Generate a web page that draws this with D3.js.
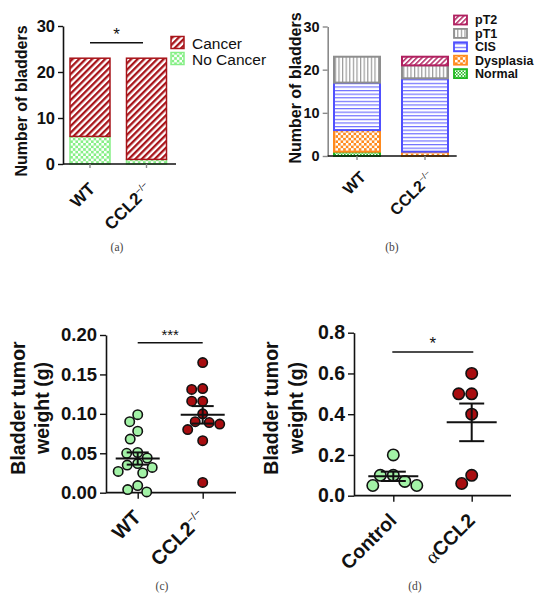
<!DOCTYPE html>
<html>
  <head>
    <meta charset="utf-8" />
    <script src="https://cdn.jsdelivr.net/npm/d3@7"></script>
    <style>
      body {
        margin: 0;
        background: #ffffff;
      }
      svg {
        font-family: "Liberation Sans", Arial, sans-serif;
      }
      .caption {
        font-family: "Liberation Serif", "Times New Roman", serif;
        font-size: 11.5px;
        fill: #444;
      }
    </style>
  </head>
  <body>
    <script>
      // (a) cancer incidence
      const groupsA = ["WT", "CCL2"];
      const noCancerA = [6, 1];
      const cancerA = [17, 22];
      const yTicksA = [0, 10, 20, 30];

      // (b) pathology stage
      const groupsB = ["WT", "CCL2"];
      const stagesB = ["Normal", "Dysplasia", "CIS", "pT1", "pT2"];
      const normalB = [1, 0];
      const dysplasiaB = [5, 1];
      const cisB = [11, 17];
      const pT1B = [6, 3];
      const pT2B = [0, 2];
      const yTicksB = [0, 10, 20, 30];

      // (c) tumor weight, knockout
      const groupsC = ["WT", "CCL2"];
      const wtWeightC = [0.099, 0.09, 0.078, 0.068, 0.05, 0.051, 0.044, 0.035, 0.032, 0.037, 0.025, 0.027, 0.009, 0.001, 0.004];
      const ccl2WeightC = [0.165, 0.131, 0.132, 0.116, 0.116, 0.1, 0.087, 0.089, 0.09, 0.08, 0.066, 0.013];
      const yTicksC = [0, 0.05, 0.1, 0.15, 0.2];

      // (d) tumor weight, antibody
      const groupsD = ["Control", "aCCL2"];
      const controlWeightD = [0.2, 0.1, 0.1, 0.07, 0.05, 0.05];
      const accl2WeightD = [0.6, 0.5, 0.5, 0.4, 0.06, 0.1];
      const yTicksD = [0, 0.2, 0.4, 0.6, 0.8];

      const svg = d3.select("body").append("svg").attr("width", 550).attr("height", 602);
      const defs = svg.append("defs");

      // ---------- patterns ----------
      function stripes(id, color, period, width, angle) {
        const p = defs.append("pattern").attr("id", id)
          .attr("patternUnits", "userSpaceOnUse")
          .attr("width", period).attr("height", period)
          .attr("patternTransform", `rotate(${angle})`);
        p.append("rect").attr("width", period).attr("height", period).attr("fill", "#fff");
        p.append("rect").attr("width", width).attr("height", period).attr("fill", color);
      }
      function checker(id, color, size) {
        const p = defs.append("pattern").attr("id", id)
          .attr("patternUnits", "userSpaceOnUse")
          .attr("width", size * 2).attr("height", size * 2);
        p.append("rect").attr("width", size * 2).attr("height", size * 2).attr("fill", color);
        p.append("rect").attr("width", size).attr("height", size).attr("fill", "#fff");
        p.append("rect").attr("x", size).attr("y", size).attr("width", size).attr("height", size).attr("fill", "#fff");
      }
      stripes("cancer", "#a8141a", 4.6, 2.3, 45);
      checker("nocancer", "#86ef86", 2.6);
      stripes("pt2", "#b8306a", 3.6, 1.6, 45);
      stripes("pt1", "#9a9a9a", 3.6, 1.2, 0);
      stripes("cis", "#6f6fff", 3.6, 1.2, 90);
      checker("dysplasia", "#ff8a1e", 2.6);
      checker("normal", "#22bb22", 1.6);

      const styleA = {
        noCancer: { fill: "url(#nocancer)", stroke: "#86ef86" },
        cancer: { fill: "url(#cancer)", stroke: "#a8141a" }
      };
      const styleB = {
        Normal: { fill: "url(#normal)", stroke: "#1fb81f" },
        Dysplasia: { fill: "url(#dysplasia)", stroke: "#ff8a1e" },
        CIS: { fill: "url(#cis)", stroke: "#5050ff" },
        pT1: { fill: "url(#pt1)", stroke: "#8e8e8e" },
        pT2: { fill: "url(#pt2)", stroke: "#b0205f" }
      };

      // ---------- helpers ----------
      function styleAxis(g, fontSize, color) {
        g.select(".domain").attr("stroke", color).attr("stroke-width", 1.6);
        g.selectAll(".tick line").attr("stroke", color).attr("stroke-width", 1.4);
        g.selectAll(".tick text").attr("font-size", fontSize).attr("font-weight", "bold")
          .attr("fill", "#111").attr("font-family", "Liberation Sans, Arial, sans-serif");
      }

      function xLabels(g, fontSize, ox, oy) {
        g.selectAll(".tick text").each(function (d) {
          const t = d3.select(this);
          t.text(null).attr("x", 0).attr("y", 0).attr("dy", 0)
            .attr("text-anchor", "end")
            .attr("font-size", fontSize).attr("font-weight", "bold").attr("fill", "#111")
            .attr("transform", `translate(${ox},${oy}) rotate(-45)`);
          if (d === "CCL2") {
            t.append("tspan").text("CCL2");
            t.append("tspan").text("\u2212/\u2212").attr("dy", "-0.7em")
              .attr("font-size", "0.55em").attr("font-weight", "normal");
          } else if (d === "aCCL2") {
            t.append("tspan").text("\u03b1").attr("font-family", "Liberation Serif, serif")
              .attr("font-weight", "normal");
            t.append("tspan").text("CCL2");
          } else {
            t.text(d);
          }
        });
      }

      function yTitle(lines, x0, yc, fontSize, gap) {
        lines.forEach((s, i) => {
          svg.append("text")
            .attr("transform", `translate(${x0 + i * gap},${yc}) rotate(-90)`)
            .attr("text-anchor", "middle").attr("dy", "0.35em")
            .attr("font-size", fontSize).attr("font-weight", "bold").attr("fill", "#111")
            .text(s);
        });
      }

      function bracket(x1, x2, y, label, fontSize) {
        svg.append("line").attr("x1", x1).attr("x2", x2).attr("y1", y).attr("y2", y)
          .attr("stroke", "#111").attr("stroke-width", 1.4);
        svg.append("text").attr("x", (x1 + x2) / 2).attr("y", y - 3)
          .attr("text-anchor", "middle").attr("font-size", fontSize).attr("fill", "#111")
          .text(label);
      }

      function caption(label, x, y) {
        svg.append("text").attr("class", "caption").attr("x", x).attr("y", y)
          .attr("text-anchor", "middle").text(label);
      }

      // simple beeswarm: place points high to low, nearest free offset
      function swarm(values, y, r, cx) {
        const placed = [];
        const order = values.map((v, i) => ({ v, i })).sort((a, b) => b.v - a.v);
        order.forEach((p) => {
          const py = y(p.v);
          let px = cx;
          for (let k = 0; k < 400; k++) {
            const off = (k % 2 === 0 ? 1 : -1) * Math.ceil(k / 2) * 0.5;
            const ok = placed.every((q) => (q.x - (cx + off)) ** 2 + (q.y - py) ** 2 >= (2 * r + 1.2) ** 2);
            if (ok) { px = cx + off; break; }
          }
          placed.push({ x: px, y: py, v: p.v });
        });
        return placed;
      }

      // ---------- (a) ----------
      const aX0 = 63, aX1 = 176;
      const yA = d3.scaleLinear().domain([0, 30]).range([164, 26]);
      const xA = d3.scaleBand().domain(groupsA).range([61.75, 174.75]);
      const tableA = groupsA.map((g, i) => ({ group: g, noCancer: noCancerA[i], cancer: cancerA[i] }));
      const stackA = d3.stack().keys(["noCancer", "cancer"])(tableA);
      const barWA = 40;

      defs.append("clipPath").attr("id", "clipA").append("rect").attr("width", 275).attr("height", 300);
      const gA = svg.append("g").attr("clip-path", "url(#clipA)");

      stackA.forEach((layer) => {
        gA.selectAll(null).data(layer).join("rect")
          .attr("x", (d) => xA(d.data.group) + (xA.bandwidth() - barWA) / 2)
          .attr("y", (d) => yA(d[1]))
          .attr("width", barWA)
          .attr("height", (d) => yA(d[0]) - yA(d[1]))
          .attr("fill", styleA[layer.key].fill)
          .attr("stroke", styleA[layer.key].stroke)
          .attr("stroke-width", 1.5);
      });

      gA.append("g").attr("transform", `translate(${aX0},0)`)
        .call(d3.axisLeft(yA).tickValues(yTicksA).tickSize(5).tickSizeOuter(0).tickPadding(3))
        .call((g) => styleAxis(g, 16.5, "#111"));
      gA.append("line").attr("x1", aX0).attr("x2", aX1).attr("y1", yA(0)).attr("y2", yA(0))
        .attr("stroke", "#111").attr("stroke-width", 1.6);
      gA.append("g").attr("transform", `translate(0,${yA(0)})`)
        .call(d3.axisBottom(xA).tickSize(4).tickSizeOuter(0))
        .call((g) => { g.select(".domain").remove(); styleAxis(g, 17, "#888"); xLabels(g, 17, 6, 26); });

      const legA = [
        { key: "cancer", label: "Cancer" },
        { key: "noCancer", label: "No Cancer" }
      ];
      legA.forEach((d, i) => {
        gA.append("rect").attr("x", 171).attr("y", 36.5 + i * 16).attr("width", 13).attr("height", 12)
          .attr("fill", styleA[d.key].fill).attr("stroke", styleA[d.key].stroke).attr("stroke-width", 1.5);
        gA.append("text").attr("x", 192).attr("y", 48.8 + i * 16)
          .attr("font-size", 15.5).attr("fill", "#111").text(d.label);
      });
      yTitle(["Number of bladders"], 21, 101, 16, 0);
      bracket(90, 143, 42.7, "*", 17);
      caption("(a)", 117, 251);

      // ---------- (b) ----------
      const bX0 = 327.7, bX1 = 456.7;
      const yB = d3.scaleLinear().domain([0, 30]).range([156, 26.5]);
      const xB = d3.scaleBand().domain(groupsB).range([323, 459]);
      const seriesB = { Normal: normalB, Dysplasia: dysplasiaB, CIS: cisB, pT1: pT1B, pT2: pT2B };
      const tableB = groupsB.map((g, i) => {
        const row = { group: g };
        stagesB.forEach((s) => (row[s] = seriesB[s][i]));
        return row;
      });
      const stackB = d3.stack().keys(stagesB)(tableB);
      const barWB = 46;

      stackB.forEach((layer) => {
        svg.append("g").selectAll("rect").data(layer.filter((d) => d[1] > d[0])).join("rect")
          .attr("x", (d) => xB(d.data.group) + (xB.bandwidth() - barWB) / 2)
          .attr("y", (d) => yB(d[1]))
          .attr("width", barWB)
          .attr("height", (d) => yB(d[0]) - yB(d[1]))
          .attr("fill", styleB[layer.key].fill)
          .attr("stroke", styleB[layer.key].stroke)
          .attr("stroke-width", 2);
      });

      svg.append("g").attr("transform", `translate(${bX0},0)`)
        .call(d3.axisLeft(yB).tickValues(yTicksB).tickSize(5).tickSizeOuter(0).tickPadding(3))
        .call((g) => styleAxis(g, 14.5, "#8a8a8a"));
      svg.append("line").attr("x1", bX0).attr("x2", bX1).attr("y1", yB(0)).attr("y2", yB(0))
        .attr("stroke", "#111").attr("stroke-width", 1.6);
      svg.append("g").attr("transform", `translate(0,${yB(0)})`)
        .call(d3.axisBottom(xB).tickSize(4).tickSizeOuter(0))
        .call((g) => { g.select(".domain").remove(); styleAxis(g, 16, "#888"); xLabels(g, 16, 10, 22); });

      stagesB.slice().reverse().forEach((s, i) => {
        const cy = 20 + i * 13.4;
        svg.append("rect").attr("x", 454).attr("y", cy - 4.5).attr("width", 13).attr("height", 9)
          .attr("fill", styleB[s].fill).attr("stroke", styleB[s].stroke).attr("stroke-width", 1.8);
        svg.append("text").attr("x", 475).attr("y", cy + 4.4)
          .attr("font-size", 12.5).attr("font-weight", "bold").attr("fill", "#111").text(s);
      });
      yTitle(["Number of bladders"], 295, 88, 16, 0);
      caption("(b)", 392, 251);

      // ---------- scatter panels ----------
      function scatterPanel(opt) {
        const y = d3.scaleLinear().domain(opt.domain).range([opt.y0, opt.y1]);
        const x = d3.scalePoint().domain(opt.groups).range(opt.xr);
        svg.append("g").attr("transform", `translate(${opt.ax},0)`)
          .call(d3.axisLeft(y).tickValues(opt.ticks).tickFormat(d3.format(opt.fmt))
            .tickSize(6).tickSizeOuter(0).tickPadding(3))
          .call((g) => styleAxis(g, opt.tickFont, "#111"));
        svg.append("line").attr("x1", opt.ax).attr("x2", opt.axEnd).attr("y1", opt.y0).attr("y2", opt.y0)
          .attr("stroke", "#111").attr("stroke-width", 1.8);
        svg.append("g").attr("transform", `translate(0,${opt.y0})`)
          .call(d3.axisBottom(x).tickSize(6).tickSizeOuter(0))
          .call((g) => { g.select(".domain").remove(); styleAxis(g, opt.labelFont, "#111"); xLabels(g, opt.labelFont, 4, 26); });

        opt.series.forEach((vals, i) => {
          const cx = x(opt.groups[i]);
          const m = d3.mean(vals);
          const sem = d3.deviation(vals) / Math.sqrt(vals.length);
          const pts = swarm(vals, y, opt.r, cx);
          svg.append("g").selectAll("circle").data(pts).join("circle")
            .attr("cx", (d) => d.x).attr("cy", (d) => d.y).attr("r", opt.r)
            .attr("fill", opt.colors[i]).attr("stroke", "#111").attr("stroke-width", 1.6);
          const g = svg.append("g").attr("stroke", "#111").attr("stroke-width", 2);
          g.append("line").attr("x1", cx - opt.meanW).attr("x2", cx + opt.meanW)
            .attr("y1", y(m)).attr("y2", y(m));
          g.append("line").attr("x1", cx).attr("x2", cx)
            .attr("y1", y(m - sem)).attr("y2", y(m + sem));
          [m - sem, m + sem].forEach((v) => {
            g.append("line").attr("x1", cx - opt.capW).attr("x2", cx + opt.capW)
              .attr("y1", y(v)).attr("y2", y(v));
          });
        });
        return x;
      }

      const green = "#a2f2a6", red = "#a80d10";

      scatterPanel({
        groups: groupsC, series: [wtWeightC, ccl2WeightC], colors: [green, red],
        domain: [0, 0.2], y0: 492.7, y1: 335, ticks: yTicksC, fmt: ".2f",
        ax: 106, axEnd: 236, xr: [137.7, 202.7], r: 4.7, meanW: 22, capW: 11,
        tickFont: 18.5, labelFont: 20
      });
      yTitle(["Bladder tumor", "weight (g)"], 18.5, 408, 19.5, 24);
      bracket(137.7, 202.7, 342.7, "***", 15);
      caption("(c)", 162, 590);

      scatterPanel({
        groups: groupsD, series: [controlWeightD, accl2WeightD], colors: [green, red],
        domain: [0, 0.8], y0: 495.7, y1: 332.7, ticks: yTicksD, fmt: ".1f",
        ax: 354, axEnd: 511, xr: [393.3, 471.7], r: 5.7, meanW: 25, capW: 12.5,
        tickFont: 19.5, labelFont: 19.5
      });
      yTitle(["Bladder tumor", "weight (g)"], 271, 408, 19.5, 25);
      bracket(392.3, 473.3, 352, "*", 17);
      caption("(d)", 415, 590);
    </script>
  </body>
</html>
